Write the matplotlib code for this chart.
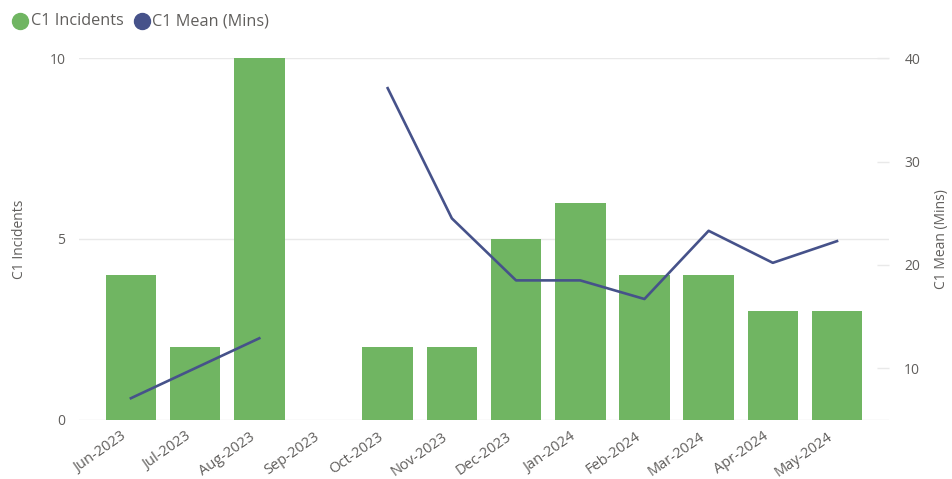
import numpy as np
import matplotlib
matplotlib.use("Agg")
import matplotlib.pyplot as plt
import matplotlib.transforms as mtransforms
from matplotlib.lines import Line2D

months = ["Jun-2023", "Jul-2023", "Aug-2023", "Sep-2023", "Oct-2023", "Nov-2023",
          "Dec-2023", "Jan-2024", "Feb-2024", "Mar-2024", "Apr-2024", "May-2024"]
incidents = [4, 2, 10, 0, 2, 2, 5, 6, 4, 4, 3, 3]
mean_mins = [7.1, 10.0, 12.9, np.nan, 37.1, 24.5, 18.5, 18.5, 16.7, 23.3, 20.2, 22.3]
left_ticks = [0, 5, 10]
right_ticks = [10, 20, 30, 40]
series_names = ["C1 Incidents", "C1 Mean (Mins)"]

BAR = "#70B562"
LINE = "#46528A"
TXT = "#605E5C"
GRID = "#E9E9E9"

plt.rcParams['font.family'] = ['Open Sans', 'DejaVu Sans']

W, H = 952, 479
fig = plt.figure(figsize=(W / 100, H / 100), dpi=100)
ax = fig.add_axes([79.3 / W, 1 - 419.5 / H, (889 - 79.3) / W, (419.5 - 58.2) / H])
ax2 = ax.twinx()

x = np.arange(len(months))
ax.bar(x, incidents, width=0.787, color=BAR, zorder=2)
ax.set_ylim(0, 10)
ax.set_xlim(-0.804, 11.81)
ax.set_yticks(left_ticks)
ax.grid(axis='y', color=GRID, linewidth=1, zorder=0)
ax.set_axisbelow(True)
for s in ax.spines.values():
    s.set_visible(False)
ax.tick_params(axis='y', length=0, pad=10, labelsize=10, labelcolor=TXT)
ax.tick_params(axis='x', length=0, pad=7, labelsize=10.5, labelcolor=TXT)
ax.set_xticks(x)
ax.set_xticklabels(months, rotation=35, ha='right', va='top', rotation_mode='anchor')
offset = mtransforms.ScaledTranslation(-10 / 100, 0, fig.dpi_scale_trans)
for lbl in ax.get_xticklabels():
    lbl.set_transform(lbl.get_transform() + offset)
ax.set_ylabel(series_names[0], fontsize=10, color=TXT, labelpad=16)

ax2.plot(x, mean_mins, color=LINE, linewidth=1.9, zorder=3, solid_joinstyle='round')
ax2.set_ylim(5.04, 40)
ax2.set_yticks(right_ticks)
for s in ax2.spines.values():
    s.set_visible(False)
ax2.tick_params(axis='y', direction='in', length=8.5, width=1, color=GRID, pad=11,
                labelsize=10, labelcolor=TXT)
ax2.set_ylabel(series_names[1], fontsize=10, color=TXT, labelpad=10)

# legend (top-left, Power BI style)
ly = 1 - 21 / H
for cx, tx, name, col in [(20, 31, series_names[0], BAR), (142, 152, series_names[1], LINE)]:
    fig.add_artist(Line2D([cx / W], [ly], marker='o', markersize=11.5, color=col,
                          linestyle='none', transform=fig.transFigure))
    fig.text(tx / W, ly, name, fontsize=11.7, color=TXT, ha='left', va='center')

fig.savefig("out.png", dpi=100)
